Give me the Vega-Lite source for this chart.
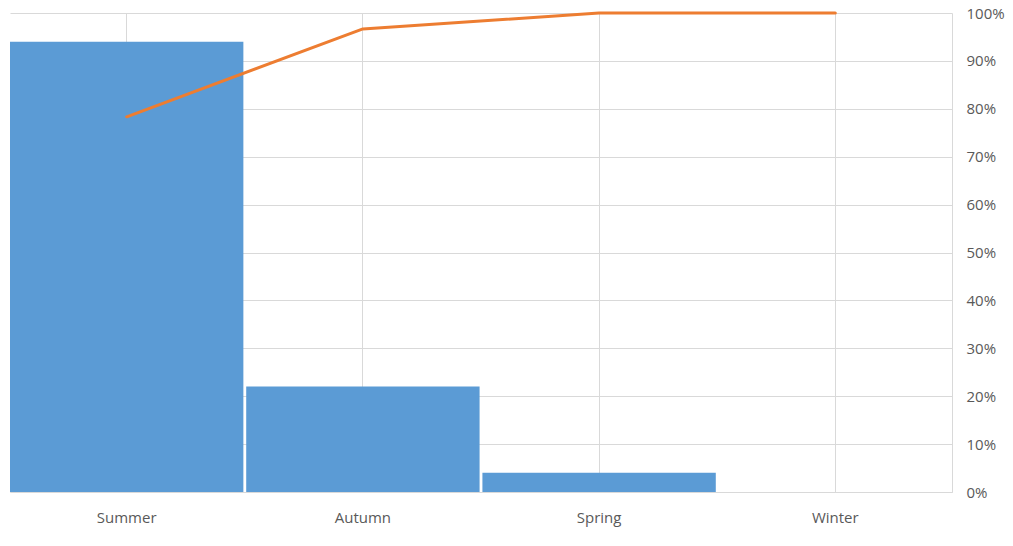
{
  "$schema": "https://vega.github.io/schema/vega-lite/v6.json",
  "width": 942,
  "height": 479,
  "autosize": "none",
  "padding": {"left": 10, "top": 13, "right": 61, "bottom": 54},
  "background": "white",
  "view": {"stroke": null},
  "config": {
    "font": "Open Sans",
    "axis": {"labelFont": "Open Sans", "labelFontSize": 15, "labelColor": "#595959"}
  },
  "data": {
    "values": [
      {"season": "Summer", "count": 94, "cumulative": 0.7833},
      {"season": "Autumn", "count": 22, "cumulative": 0.9667},
      {"season": "Spring", "count": 4, "cumulative": 1.0},
      {"season": "Winter", "count": 0, "cumulative": 1.0}
    ]
  },
  "encoding": {
    "x": {
      "field": "season",
      "type": "nominal",
      "sort": null,
      "scale": {"paddingInner": 0.012, "paddingOuter": 0},
      "axis": {
        "title": null,
        "labelAngle": 0,
        "ticks": false,
        "grid": true,
        "bandPosition": 0.5,
        "gridColor": "#d9d9d9",
        "domainColor": "#d9d9d9",
        "labelPadding": 18
      }
    }
  },
  "layer": [
    {
      "mark": {"type": "bar", "color": "#5B9BD5"},
      "encoding": {
        "y": {
          "field": "count",
          "type": "quantitative",
          "scale": {"domain": [0, 100], "nice": false},
          "axis": null
        }
      }
    },
    {
      "mark": {"type": "line", "color": "#ED7D31", "strokeWidth": 3, "strokeCap": "round", "strokeJoin": "round"},
      "encoding": {
        "y": {
          "field": "cumulative",
          "type": "quantitative",
          "scale": {"domain": [0, 1], "nice": false},
          "axis": {
            "orient": "right",
            "title": null,
            "format": ".0%",
            "values": [0, 0.1, 0.2, 0.3, 0.4, 0.5, 0.6, 0.7, 0.8, 0.9, 1.0],
            "ticks": false,
            "grid": true,
            "gridColor": "#d9d9d9",
            "domainColor": "#d9d9d9",
            "labelPadding": 14
          }
        }
      }
    }
  ],
  "resolve": {"scale": {"y": "independent"}}
}
